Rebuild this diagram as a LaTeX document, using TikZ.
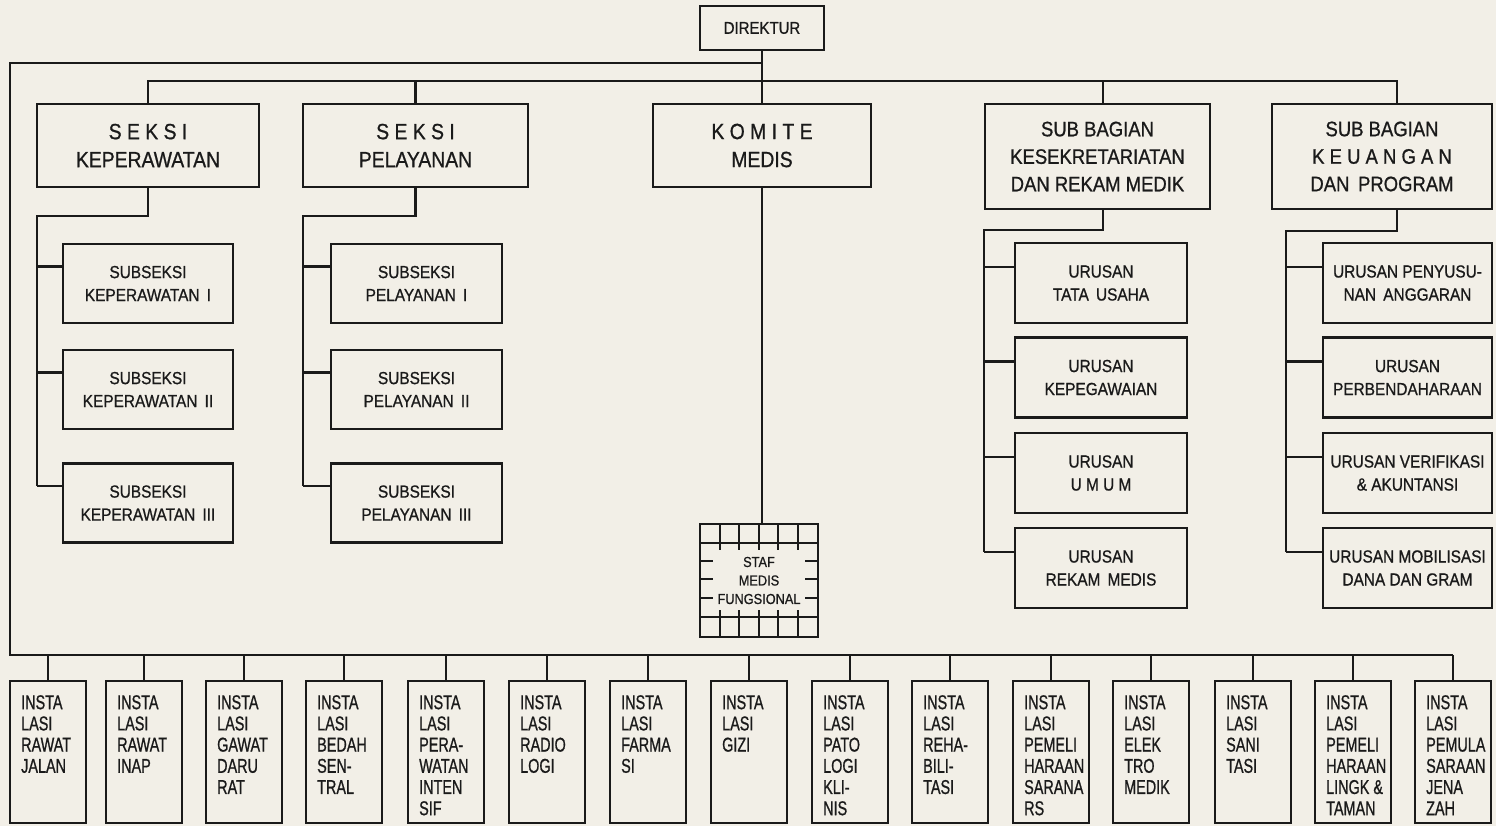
\documentclass[tikz,border=0pt]{standalone}
\usepackage{fontspec}
\setmainfont{Liberation Sans}
\newfontfamily\orgfont[FakeStretch=0.88,FakeBold=0.8]{Liberation Sans}
\newfontfamily\instfont[FakeStretch=0.72,FakeBold=0.8]{Liberation Sans}
\definecolor{paper}{HTML}{F2EFE7}
\definecolor{ink}{HTML}{1A1A1A}

\begin{document}
\begin{tikzpicture}[
    x=1pt, y=-1pt,
    box/.style={draw=ink, line width=2.3pt, inner sep=0pt, outer sep=0pt,
                align=center, text=ink},
    link/.style={draw=ink, line width=2.3pt},
    grid/.style={draw=ink, line width=1.9pt},
    headbox/.style={box, minimum height=83pt, font=\orgfont\fontsize{22}{28}\selectfont},
    bagbox/.style={box, minimum height=105pt, font=\orgfont\fontsize{21}{27.5}\selectfont},
    unitbox/.style={box, minimum height=79pt, font=\orgfont\fontsize{17.5}{23}\selectfont},
    instbox/.style={box, minimum width=76pt, minimum height=142pt},
    insttext/.style={inner sep=0pt, align=left, text=ink,
                     font=\instfont\fontsize{20}{21.2}\selectfont},
  ]
  \fill[paper] (0,0) rectangle (1496,826);
  \useasboundingbox (0,0) rectangle (1496,826);

  % top level
  \node[box, minimum width=124pt, minimum height=44pt,
        font=\orgfont\fontsize{17}{20}\selectfont] (dir) at (762,28) {DIREKTUR};
  \node[headbox, minimum width=222pt] (kep) at (148,145.5) {S E K S I\\KEPERAWATAN};
  \node[headbox, minimum width=225pt] (pel) at (415.5,145.5) {S E K S I\\PELAYANAN};
  \node[headbox, minimum width=218pt] (kom) at (762,145.5) {K O M I T E\\MEDIS};
  \node[bagbox, minimum width=225pt] (sek) at (1097.5,156.5)
    {SUB BAGIAN\\KESEKRETARIATAN\\DAN REKAM MEDIK};
  \node[bagbox, minimum width=220pt] (keu) at (1382,156.5)
    {SUB BAGIAN\\K E U A N G A N\\DAN\, PROGRAM};

  % seksi keperawatan / pelayanan
  \node[unitbox, minimum width=170pt] (ks1) at (148,283.5) {SUBSEKSI\\KEPERAWATAN\, I};
  \node[unitbox, minimum width=170pt] (ks2) at (148,389.5) {SUBSEKSI\\KEPERAWATAN\, II};
  \node[unitbox, minimum width=170pt] (ks3) at (148,503) {SUBSEKSI\\KEPERAWATAN\, III};
  \node[unitbox, minimum width=171pt] (ps1) at (416.5,283.5) {SUBSEKSI\\PELAYANAN\, I};
  \node[unitbox, minimum width=171pt] (ps2) at (416.5,389.5) {SUBSEKSI\\PELAYANAN\, II};
  \node[unitbox, minimum width=171pt] (ps3) at (416.5,503) {SUBSEKSI\\PELAYANAN\, III};

  % sub bagian
  \node[unitbox, minimum width=172pt, minimum height=80pt] (us1) at (1101,283) {URUSAN\\TATA\, USAHA};
  \node[unitbox, minimum width=172pt, minimum height=80pt] (us2) at (1101,377.5) {URUSAN\\KEPEGAWAIAN};
  \node[unitbox, minimum width=172pt, minimum height=80pt] (us3) at (1101,473) {URUSAN\\U M U M};
  \node[unitbox, minimum width=172pt, minimum height=80pt] (us4) at (1101,568) {URUSAN\\REKAM\, MEDIS};
  \node[unitbox, minimum width=169pt, minimum height=80pt] (uk1) at (1407.5,283) {URUSAN PENYUSU-\\NAN\, ANGGARAN};
  \node[unitbox, minimum width=169pt, minimum height=80pt] (uk2) at (1407.5,377.5) {URUSAN\\PERBENDAHARAAN};
  \node[unitbox, minimum width=169pt, minimum height=80pt] (uk3) at (1407.5,473) {URUSAN VERIFIKASI\\\& AKUNTANSI};
  \node[unitbox, minimum width=169pt, minimum height=80pt] (uk4) at (1407.5,568) {URUSAN MOBILISASI\\DANA DAN GRAM};

  % staf medis fungsional
  \node[box, line width=1.9pt, minimum width=118pt, minimum height=113pt,
        font=\orgfont\fontsize{14.5}{18.5}\selectfont] (staf) at (759,580.5)
    {STAF\\MEDIS\\FUNGSIONAL};
  \draw[grid] (700,543) -- (818,543) (700,617) -- (818,617);
  \foreach \x in {720,739,759,778,798} {
    \draw[grid] (\x,524) -- (\x,550);
    \draw[grid] (\x,610) -- (\x,637);
  }
  \foreach \y in {561,579,598} {
    \draw[grid] (700,\y) -- (713,\y);
    \draw[grid] (805,\y) -- (818,\y);
  }

  % instalasi
  \foreach \i/\l/\txt in {
      1/10/{INSTA\\LASI\\RAWAT\\JALAN},
      2/106/{INSTA\\LASI\\RAWAT\\INAP},
      3/206/{INSTA\\LASI\\GAWAT\\DARU\\RAT},
      4/306/{INSTA\\LASI\\BEDAH\\SEN-\\TRAL},
      5/408/{INSTA\\LASI\\PERA-\\WATAN\\INTEN\\SIF},
      6/509/{INSTA\\LASI\\RADIO\\LOGI},
      7/610/{INSTA\\LASI\\FARMA\\SI},
      8/711/{INSTA\\LASI\\GIZI},
      9/812/{INSTA\\LASI\\PATO\\LOGI\\KLI-\\NIS},
      10/912/{INSTA\\LASI\\REHA-\\BILI-\\TASI},
      11/1013/{INSTA\\LASI\\PEMELI\\HARAAN\\SARANA\\RS},
      12/1113/{INSTA\\LASI\\ELEK\\TRO\\MEDIK},
      13/1215/{INSTA\\LASI\\SANI\\TASI},
      14/1315/{INSTA\\LASI\\PEMELI\\HARAAN\\LINGK \&\\TAMAN},
      15/1415/{INSTA\\LASI\\PEMULA\\SARAAN\\JENA\\ZAH}} {
    \node[instbox] (i\i) at (\l+38,752) {};
    \node[insttext, anchor=north west] (t\i) at ([shift={(11pt,-14pt)}]i\i.north west) {\txt};
  }

  % connectors
  \coordinate (bus) at (1453,655);
  \draw[link] (dir.south) |- (10,63) |- (bus);
  \draw[link] (dir.south) -- (kom.north);
  \draw[link] (kep.north) -- ++(0,-23) -| ([xshift=15pt]keu.north);
  \draw[link] (pel.north) -- ++(0,-23);
  \draw[link] ([xshift=5.5pt]sek.north) -- ++(0,-23);
  \draw[link] (kom.south) -- (kom.south |- staf.north);
  \foreach \i in {1,...,15} { \draw[link] (i\i.north) -- (i\i.north |- bus); }

  \draw[link] (kep.south) -- ++(0,29) -| ([shift={(-26pt,17pt)}]ks3.west);
  \draw[link] (pel.south) -- ++(0,29) -| ([shift={(-28pt,17pt)}]ps3.west);
  \foreach \n in {ks1,ks2,ks3} { \draw[link] ([yshift=17pt]\n.west) -- ++(-26,0); }
  \foreach \n in {ps1,ps2,ps3} { \draw[link] ([yshift=17pt]\n.west) -- ++(-28,0); }

  \draw[link] ([xshift=5.5pt]sek.south) -- ++(0,21) -| ([shift={(-31pt,16pt)}]us4.west);
  \draw[link] ([xshift=15pt]keu.south) -- ++(0,22) -| ([shift={(-37pt,16pt)}]uk4.west);
  \foreach \n in {us1,us2,us3,us4} { \draw[link] ([yshift=16pt]\n.west) -- ++(-31,0); }
  \foreach \n in {uk1,uk2,uk3,uk4} { \draw[link] ([yshift=16pt]\n.west) -- ++(-37,0); }
\end{tikzpicture}
\end{document}
